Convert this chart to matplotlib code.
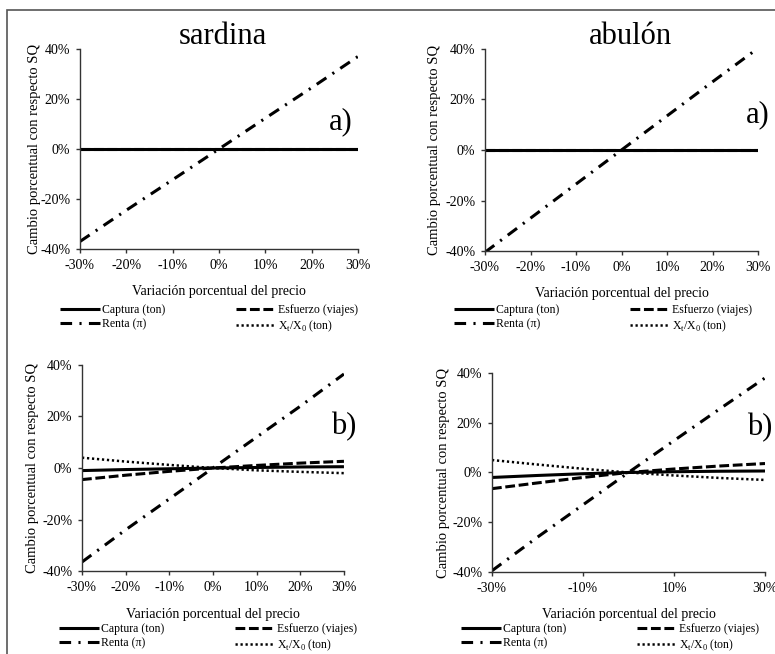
import matplotlib
matplotlib.use('Agg')
import matplotlib.pyplot as plt
from matplotlib.patches import Rectangle
from matplotlib.ticker import FuncFormatter

plt.rcParams['font.family'] = ['Liberation Serif', 'DejaVu Serif']

# variación del precio (%)
precio = [-30, -20, -10, 0, 10, 20, 30]

# a) sardina
sar_a_captura = [0, 0, 0, 0, 0, 0, 0]
sar_a_esfuerzo = [0, 0, 0, 0, 0, 0, 0]
sar_a_renta = [-37, -24.5, -12.3, 0, 12.3, 24.5, 37]
sar_a_x = [0, 0, 0, 0, 0, 0, 0]

# a) abulón
abu_a_captura = [0, 0, 0, 0, 0, 0, 0]
abu_a_esfuerzo = [0, 0, 0, 0, 0, 0, 0]
abu_a_renta = [-40.5, -27, -13.5, 0, 13.5, 27, 40.3]
abu_a_x = [0, 0, 0, 0, 0, 0, 0]

# b) sardina
sar_b_captura = [-1.0, -0.6, -0.3, 0, 0.2, 0.4, 0.5]
sar_b_esfuerzo = [-4.5, -2.8, -1.3, 0, 1.0, 1.9, 2.6]
sar_b_renta = [-36.5, -24, -12, 0, 12, 24, 36.5]
sar_b_x = [4.0, 2.5, 1.2, 0, -0.9, -1.5, -2.0]

# b) abulón
abu_b_captura = [-2.0, -1.2, -0.5, 0, 0.3, 0.5, 0.6]
abu_b_esfuerzo = [-6.5, -4.2, -2.0, 0, 1.4, 2.6, 3.6]
abu_b_renta = [-39.5, -26, -13, 0, 12.8, 25.5, 38]
abu_b_x = [5.0, 3.2, 1.5, 0, -1.2, -2.2, -3.0]

yticks = [-40, -20, 0, 20, 40]
xticks_full = [-30, -20, -10, 0, 10, 20, 30]
xticks_sparse = [-30, -10, 10, 30]

etiquetas = ['Captura (ton)', 'Esfuerzo (viajes)', 'Renta (\u03c0)',
             'X$_{\\mathregular{t}}$/X$_{\\mathregular{0}}$ (ton)']

fig = plt.figure(figsize=(7.75, 6.54), dpi=100)

# marco de la figura
fig.patches.append(Rectangle((7 / 775, -0.1), 1.2, 1 - 10 / 654 + 0.1,
                             transform=fig.transFigure, fill=False,
                             edgecolor='#555555', linewidth=1.2))

paneles = [
    ([0.1032, 0.6193, 0.3587, 0.3058], sar_a_captura, sar_a_esfuerzo, sar_a_renta, sar_a_x,
     xticks_full, -0.142, 'a)', (341, 122), (209, 319)),
    ([0.6258, 0.6162, 0.3523, 0.3089], abu_a_captura, abu_a_esfuerzo, abu_a_renta, abu_a_x,
     xticks_full, -0.16, 'a)', (758, 115), (603, 319)),
    ([0.1058, 0.1269, 0.3380, 0.3150], sar_b_captura, sar_b_esfuerzo, sar_b_renta, sar_b_x,
     xticks_full, -0.166, 'b)', (344, 427), (208, 638)),
    ([0.6348, 0.1254, 0.3523, 0.3043], abu_b_captura, abu_b_esfuerzo, abu_b_renta, abu_b_x,
     xticks_sparse, -0.152, 'b)', (760, 428), (610, 638)),
]

pct = FuncFormatter(lambda v, p: '%d%%' % v)

for rect, cap, esf, ren, xx, xt, ylab_x, letra, letra_pos, leg_pos in paneles:
    ax = fig.add_axes(rect)
    h_cap, = ax.plot(precio, cap, color='black', lw=2.2, solid_capstyle='butt')
    h_esf, = ax.plot(precio, esf, color='black', lw=2.2, dashes=(3.2, 1.2))
    h_ren, = ax.plot(precio, ren, color='black', lw=2.2, dashes=(3.8, 2.4, 0.7, 2.4))
    h_x, = ax.plot(precio, xx, color='black', lw=1.8, dashes=(0.9, 1.1))
    ax.set_xlim(-30, 30)
    ax.set_ylim(-40, 40)
    ax.set_xticks(xt)
    ax.set_yticks(yticks)
    ax.xaxis.set_major_formatter(pct)
    ax.yaxis.set_major_formatter(pct)
    ax.spines['top'].set_visible(False)
    ax.spines['right'].set_visible(False)
    for s in ('left', 'bottom'):
        ax.spines[s].set_color('#333333')
        ax.spines[s].set_linewidth(1.0)
    ax.tick_params(direction='out', length=3, width=1, color='#333333',
                   labelsize=10, pad=4)
    ax.set_xlabel('Variación porcentual del precio', fontsize=10)
    ax.xaxis.set_label_coords(0.5, -0.18)
    ax.set_ylabel('Cambio porcentual con respecto SQ', fontsize=10.5)
    ax.yaxis.set_label_coords(ylab_x, 0.5)
    fig.text(letra_pos[0] / 775, 1 - letra_pos[1] / 654, letra, fontsize=22,
             ha='center', va='center')
    ax.legend([h_cap, h_ren, h_esf, h_x],
              [etiquetas[0], etiquetas[2], etiquetas[1], etiquetas[3]],
              ncol=2, loc='center', frameon=False, fontsize=8.5,
              bbox_to_anchor=(leg_pos[0] / 775, 1 - leg_pos[1] / 654),
              bbox_transform=fig.transFigure, handlelength=3.4,
              handletextpad=0.15, columnspacing=6.0, labelspacing=0.15,
              borderpad=0)

fig.text(223 / 775, 1 - 37 / 654, 'sardina', fontsize=22, ha='center', va='center')
fig.text(630 / 775, 1 - 36 / 654, 'abulón', fontsize=22, ha='center', va='center')

fig.savefig('out.png', dpi=100)
